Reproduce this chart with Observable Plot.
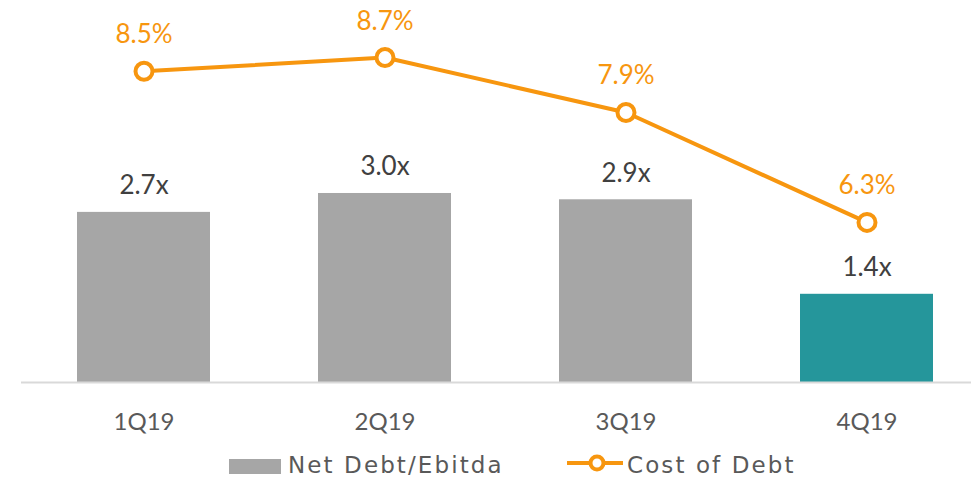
<!DOCTYPE html>
<html>
<head>
<meta charset="utf-8">
<script src="https://cdn.jsdelivr.net/npm/d3@7"></script>
<script src="https://cdn.jsdelivr.net/npm/@observablehq/plot@0.6"></script>
<style>
  html, body { margin: 0; padding: 0; background: #fff; }
  #legend { position: relative; width: 971px; height: 32px; font-family: "DejaVu Sans", sans-serif; font-size: 23px; color: #595959; letter-spacing: 2.1px; }
  #legend .t { position: absolute; line-height: 23px; white-space: nowrap; }
</style>
</head>
<body>
<div id="chart"></div>
<div id="legend">
  <div style="position:absolute;left:229px;top:14px;width:52px;height:15px;background:#a6a6a6"></div>
  <div class="t" style="left:288px;top:9px">Net Debt/Ebitda</div>
  <svg style="position:absolute;left:565px;top:7px" width="60" height="22">
    <line x1="2" y1="11" x2="58" y2="11" stroke="#f7960f" stroke-width="4"></line>
    <circle cx="32" cy="11" r="6.5" fill="#fff" stroke="#f7960f" stroke-width="4"></circle>
  </svg>
  <div class="t" style="left:627px;top:9px">Cost of Debt</div>
</div>
<script>
const quarters = ["1Q19", "2Q19", "3Q19", "4Q19"];
const netDebtEbitda = [2.7, 3.0, 2.9, 1.4];
const costOfDebt = [8.5, 8.7, 7.9, 6.3];
const barLabels = ["2.7x", "3.0x", "2.9x", "1.4x"];
const costLabels = ["8.5%", "8.7%", "7.9%", "6.3%"];
const barColors = ["#a6a6a6", "#a6a6a6", "#a6a6a6", "#25969b"];
const orange = "#f7960f";

const rows = quarters.map((q, i) => ({
  q, nd: netDebtEbitda[i], cod: costOfDebt[i],
  barLabel: barLabels[i], codLabel: costLabels[i], color: barColors[i]
}));

// secondary axis for cost of debt (%), mapped onto the bar axis
const yMax = 6.063;
const y2 = d3.scaleLinear([3.97, 9.53], [0, yMax]);

const chart = Plot.plot({
  width: 971,
  height: 445,
  marginLeft: 21,
  marginRight: 0,
  marginTop: 0,
  marginBottom: 63,
  x: { type: "band", domain: quarters, paddingInner: 0.45, paddingOuter: 0.19, align: 0.59, axis: null },
  y: { domain: [0, yMax], axis: null },
  color: { type: "identity" },
  style: { fontFamily: "Lato, sans-serif", background: "white" },
  marks: [
    Plot.barY(rows, { x: "q", y: "nd", fill: "color" }),
    Plot.ruleY([0], { stroke: "#d9d9d9", strokeWidth: 2 }),
    Plot.text(rows, { x: "q", y: "nd", text: "barLabel", lineAnchor: "bottom", dy: -18, fontSize: 26, fill: "#404040" }),
    Plot.line(rows, { x: "q", y: d => y2(d.cod), stroke: orange, strokeWidth: 4 }),
    Plot.dot(rows, { x: "q", y: d => y2(d.cod), r: 8.5, fill: "white", stroke: orange, strokeWidth: 4 }),
    Plot.text(rows, { x: "q", y: d => y2(d.cod), text: "codLabel", lineAnchor: "bottom", dy: -28, fontSize: 26, fill: orange }),
    Plot.text(quarters, { x: d => d, frameAnchor: "bottom", lineAnchor: "bottom", dy: 47, fontSize: 24, fill: "#595959" })
  ]
});
document.getElementById("chart").appendChild(chart);
</script>
</body>
</html>
